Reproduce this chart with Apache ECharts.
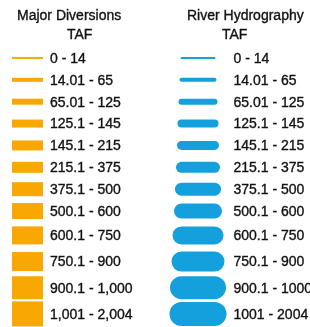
<!DOCTYPE html>
<html>
<head>
<meta charset="utf-8">
<script src="https://cdn.jsdelivr.net/npm/echarts@6/dist/echarts.min.js"></script>
<style>
  html, body { margin: 0; padding: 0; background: #fff; }
  #chart { width: 310px; height: 327px; }
</style>
</head>
<body>
<div id="chart"></div>
<script>
// legend classes (TAF)
var diversionLabels = ["0 - 14", "14.01 - 65", "65.01 - 125", "125.1 - 145", "145.1 - 215", "215.1 - 375",
  "375.1 - 500", "500.1 - 600", "600.1 - 750", "750.1 - 900", "900.1 - 1,000", "1,001 - 2,004"];
var riverLabels = ["0 - 14", "14.01 - 65", "65.01 - 125", "125.1 - 145", "145.1 - 215", "215.1 - 375",
  "375.1 - 500", "500.1 - 600", "600.1 - 750", "750.1 - 900", "900.1 - 1000", "1001 - 2004"];
// line weight of each class
var diversionWeight = [2, 4, 6, 8, 10, 11, 14, 16, 18, 19, 23, 25];
var riverWeight = [2, 4, 6, 8, 9, 11, 13, 15, 18, 20, 23, 24];

var orange = "#F9A702";
var blue = "#13A0DC";
var ink = "#111";
var font = '"Liberation Sans", Arial, sans-serif';

// rows 1-8 sit in the first grid, rows 9-12 (thicker) in the second
var splitAt = 8;

function rowData(from, to) {
  var out = [];
  for (var i = from; i < to; i++) {
    out.push([0, i - from, i]);
    out.push([1, i - from, i]);
  }
  return out;
}

function labelStyle(text, x, y) {
  return { text: text, x: x, y: y, fill: ink, stroke: ink, lineWidth: 0.35,
    fontSize: 14, fontFamily: font, align: "left", verticalAlign: "middle" };
}

function renderRow(params, api) {
  var col = api.value(0);
  var idx = api.value(2);
  var c = api.coord([col, api.value(1)]);
  if (col === 0) {
    var w = diversionWeight[idx];
    return {
      type: "group",
      children: [
        { type: "rect", shape: { x: c[0] - 65.5, y: c[1] - w / 2, width: 31, height: w }, style: { fill: orange } },
        { type: "text", style: labelStyle(diversionLabels[idx], c[0] - 27.5, c[1] + 1) }
      ]
    };
  }
  var h = riverWeight[idx];
  var len = 33 + h;
  return {
    type: "group",
    children: [
      { type: "rect", shape: { x: c[0] - 34.5 - len / 2, y: c[1] - h / 2, width: len, height: h, r: h / 2 }, style: { fill: blue } },
      { type: "text", style: labelStyle(riverLabels[idx], c[0] + 1, c[1] + 1) }
    ]
  };
}

function rows(n) {
  var out = [];
  for (var i = 0; i < n; i++) out.push(i);
  return out;
}

var titleText = { fontSize: 14, fontWeight: "normal", color: ink, fontFamily: font, textBorderColor: ink, textBorderWidth: 0.35 };

var myChart = echarts.init(document.getElementById("chart"), null, { renderer: "canvas" });
myChart.setOption({
  animation: false,
  title: [
    { text: "Major Diversions", left: 12, top: 4, textStyle: titleText },
    { text: "TAF", left: 62, top: 23, textStyle: titleText },
    { text: "River Hydrography", left: 182, top: 4, textStyle: titleText },
    { text: "TAF", left: 217, top: 23, textStyle: titleText }
  ],
  grid: [
    { left: 0, right: 0, top: 47, height: 175 },
    { left: 0, right: 0, top: 222.3, height: 109.3 }
  ],
  xAxis: [
    { gridIndex: 0, type: "category", data: ["div", "river"], show: false },
    { gridIndex: 1, type: "category", data: ["div", "river"], show: false }
  ],
  yAxis: [
    { gridIndex: 0, type: "category", inverse: true, data: rows(splitAt), show: false },
    { gridIndex: 1, type: "category", inverse: true, data: rows(diversionLabels.length - splitAt), show: false }
  ],
  series: [
    { type: "custom", xAxisIndex: 0, yAxisIndex: 0, renderItem: renderRow, data: rowData(0, splitAt) },
    { type: "custom", xAxisIndex: 1, yAxisIndex: 1, renderItem: renderRow, data: rowData(splitAt, diversionLabels.length) }
  ]
});
</script>
</body>
</html>
